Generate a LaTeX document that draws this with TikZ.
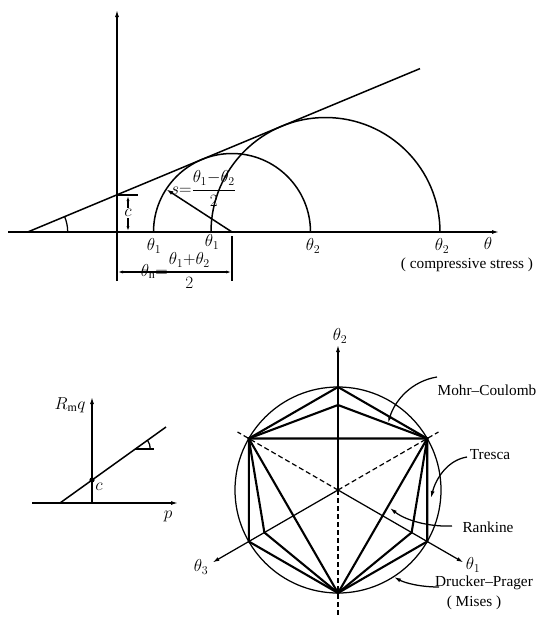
\documentclass[tikz,border=0pt]{standalone}
\usepackage{fontspec}
\setmainfont{Liberation Serif}
\usepackage{amsmath}
\usetikzlibrary{arrows.meta,calc}
\begin{document}
\begin{tikzpicture}[x=1pt,y=-1pt,
  thinl/.style={line width=1.25pt},
  midl/.style={line width=1.5pt},
  thickl/.style={line width=2.1pt, line join=miter},
  arr/.style={-{Latex[length=7pt,width=4pt]}},
  darr/.style={{Latex[length=6pt,width=3pt]}-{Latex[length=6pt,width=3pt]}},
  lbl/.style={font=\fontsize{17}{20}\selectfont, inner sep=0pt},
  txt/.style={font=\fontsize{15.3}{18}\selectfont, inner sep=0pt},
  dsh/.style={line width=1.2pt, dash pattern=on 5pt off 3pt},
]
\useasboundingbox (0,0) rectangle (537,619);

% ---------------- top: Mohr circles ----------------
\coordinate (O1) at (117,232);
\coordinate (yt) at (117,10);
\coordinate (yb) at (117,281);
\coordinate (xl) at (8,232);
\coordinate (xr) at (499,232);
\draw[thinl,arr] (yb) -- (yt);
\draw[thinl,arr] (xl) -- (xr);

\coordinate (E0) at (27.7,232);
\coordinate (E1) at (420,68.6);
\draw[midl] (E0) -- (E1);
\draw[thinl] ($(E0)+(40,0)$) arc[start angle=0,end angle=-22.6,radius=40];

\coordinate (C1) at (232,232);
\coordinate (C2) at (325.5,232);
\draw[midl] (153.5,232) arc[start angle=180,end angle=360,radius=78.5];
\draw[midl] (211,232) arc[start angle=180,end angle=360,radius=114.5];

\coordinate (S1) at ($(C1)+(-147:78.5)$);
\draw[midl,arr] (C1) -- (S1);
\node[lbl,anchor=base west] (sl) at (171,194.3) {$s{=}\dfrac{\theta_1{-}\theta_2}{2}$};

% c dimension
\coordinate (cA) at (117,195.1);
\coordinate (cB) at (138,195.1);
\draw[thinl] (cA) -- (cB);
\coordinate (cT) at (128,195.1);
\coordinate (cD) at (128,232);
\draw[thinl,darr] (cT) -- (cD);
\node[lbl,fill=white,inner sep=1pt] (cl) at (128,213) {$c$};

% bottom dimension
\coordinate (dE) at (232,236);
\coordinate (dF) at (232,281);
\draw[thinl] (dE) -- (dF);
\coordinate (dL) at (117,272);
\coordinate (dR) at (232,272);
\draw[thinl,darr] (dL) -- (dR);
\node[lbl,anchor=base] (thn) at (176,276.3) {$\theta_{\mathrm{n}}{=}\dfrac{\theta_1{+}\theta_2}{2}$};

\node[lbl] (a1) at (154,246) {$\theta_1$};
\node[lbl] (a2) at (212,242) {$\theta_1$};
\node[lbl] (a3) at (313,246) {$\theta_2$};
\node[lbl] (a4) at (442,246) {$\theta_2$};
\node[lbl] (a5) at (488,243) {$\theta$};
\node[txt] (cs) at (467,265) {( compressive stress )};

% ---------------- bottom left: p-q ----------------
\coordinate (pl) at (32,503);
\coordinate (pr) at (178,503);
\coordinate (qb) at (92,503);
\coordinate (qt) at (92,397);
\draw[thinl,arr] (pl) -- (pr);
\draw[thinl,arr] (qb) -- (qt);
\coordinate (L0) at (60,503);
\coordinate (L1) at (166,427);
\draw[midl] (L0) -- (L1);
\coordinate (cp) at (92,480);
\fill (cp) circle[radius=2.6];
\node[lbl] (cpl) at (99,487) {$c$};
\coordinate (G0) at (135.3,449);
\coordinate (G1) at (154,449);
\draw[thinl] (G0) -- (G1);
\draw[thinl] ($(G0)+(15,0)$) arc[start angle=0,end angle=-35.6,radius=15];
\node[lbl] (rq) at (70,405) {$R_{\mathrm{m}}q$};
\node[lbl] (pp) at (168,516) {$p$};

% ---------------- bottom right: pi-plane ----------------
\coordinate (O) at (338,490);
\coordinate (T90) at ($(O)+(-90:103)$);
\coordinate (T30) at ($(O)+(-30:103)$);
\coordinate (T150) at ($(O)+(-150:103)$);
\coordinate (T210) at ($(O)+(150:103)$);
\coordinate (T270) at ($(O)+(90:103)$);
\coordinate (T330) at ($(O)+(30:103)$);
\coordinate (M90) at ($(O)+(-90:85)$);
\coordinate (M210) at ($(O)+(150:85)$);
\coordinate (M330) at ($(O)+(30:85)$);

\draw[thinl] (O) circle[radius=103];
\coordinate (Ax2) at (338,345);
\coordinate (Ax1) at ($(O)+(30:145)$);
\coordinate (Ax3) at ($(O)+(150:145)$);
\draw[thinl,arr] (O) -- (Ax2);
\draw[thinl,arr] (O) -- (Ax1);
\draw[thinl,arr] (O) -- (Ax3);
\coordinate (D1) at (338,615);
\coordinate (D2) at ($(O)+(-30:116)$);
\coordinate (D3) at ($(O)+(-150:116)$);
\draw[dsh] (O) -- (D1);
\draw[dsh] (O) -- (D2);
\draw[dsh] (O) -- (D3);

\draw[thickl] (T90) -- (T30) -- (T330) -- (T270) -- (T210) -- (T150) -- cycle;
\draw[thickl] (M90) -- (T30) -- (M330) -- (T270) -- (M210) -- (T150) -- cycle;
\draw[thickl] (T150) -- (T30) -- (T270) -- cycle;

\node[lbl] (t2) at (340,336) {$\theta_2$};
\node[lbl] (t1) at (473,565) {$\theta_1$};
\node[lbl] (t3) at (201,567) {$\theta_3$};

\node[txt] (mc) at (487,390) {Mohr--Coulomb};
\node[txt] (tr) at (490,455) {Tresca};
\node[txt] (rk) at (488,527) {Rankine};
\node[txt] (dp) at (484,583) {Drucker--Prager};
\node[txt] (ms) at (474,603) {( Mises )};

\coordinate (mcS) at (437,377);
\coordinate (mcE) at (388,423);
\draw[thinl,arr] (mcS) .. controls (412,381) and (395,400) .. (mcE);
\coordinate (trS) at (467,457);
\coordinate (trE) at (431,498);
\draw[thinl,arr] (trS) .. controls (448,460) and (436,478) .. (trE);
\coordinate (rkS) at (452,526);
\coordinate (rkE) at (390,508);
\draw[thinl,arr] (rkS) .. controls (428,527) and (405,520) .. (rkE);
\coordinate (dpS) at (439,587);
\coordinate (dpE) at (394,577);
\draw[thinl,arr] (dpS) .. controls (420,587) and (405,583) .. (dpE);
\end{tikzpicture}
\end{document}
